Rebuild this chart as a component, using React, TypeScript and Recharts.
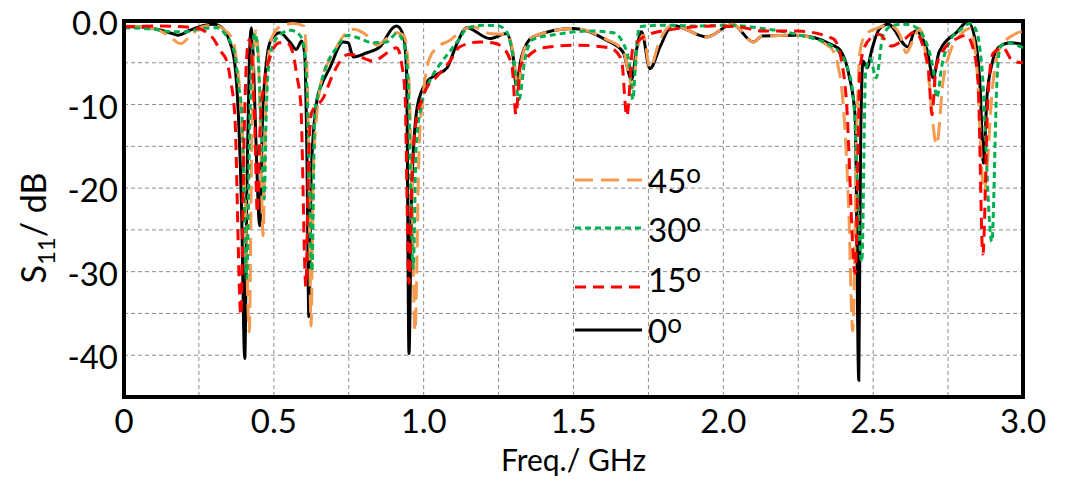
import React from "react";
import { LineChart, Line, XAxis, YAxis, CartesianGrid, ReferenceArea } from "recharts";

// axis ticks (grid every 0.25 GHz / 5 dB, labels every 0.5 GHz / 10 dB)
const freqTicks = [0, 0.25, 0.5, 0.75, 1, 1.25, 1.5, 1.75, 2, 2.25, 2.5, 2.75, 3];
const dbTicks = [-45, -40, -35, -30, -25, -20, -15, -10, -5, 0];

// S11 (dB), [freq GHz, dB]
const s11Deg0: [number, number][] = [
  [0, -0.7], [0.05, -0.7], [0.1, -0.9], [0.16, -1.5], [0.18, -1.7], [0.22, -1.1], [0.27, -0.5],
  [0.3, -0.4], [0.33, -0.9], [0.35, -2.2], [0.37, -5.2], [0.38, -10], [0.392, -22], [0.403, -40.4],
  [0.41, -20], [0.418, -5], [0.425, -0.8], [0.432, -5], [0.44, -14], [0.453, -24.5], [0.462, -12],
  [0.475, -5], [0.49, -2.3], [0.52, -1.4], [0.553, -2.5], [0.575, -3.4], [0.593, -2.4], [0.603, -4],
  [0.61, -15], [0.617, -35.4], [0.625, -18], [0.644, -9.4], [0.66, -7.6], [0.687, -5.6], [0.731, -2.5],
  [0.748, -2.6], [0.765, -4.3], [0.81, -3.8], [0.854, -3.1], [0.898, -0.8], [0.91, -0.6], [0.932, -1.7],
  [0.943, -6], [0.951, -39.8], [0.96, -20], [0.98, -10], [1.01, -7.3], [1.044, -6.4], [1.078, -5.6],
  [1.11, -2.8], [1.144, -0.8], [1.22, -2.1], [1.277, -1.5], [1.3, -4.6], [1.308, -7.6], [1.327, -4.2],
  [1.365, -1.9], [1.5, -0.9], [1.61, -2.3], [1.665, -3.7], [1.694, -7], [1.71, -3.5], [1.727, -1.3],
  [1.755, -5.7], [1.79, -3], [1.83, -0.5], [1.945, -1.9], [2.03, -0.4], [2.1, -2.5], [2.13, -1.8],
  [2.245, -1.7], [2.366, -2.9], [2.39, -3.5], [2.42, -6.6], [2.44, -11.4], [2.452, -43], [2.458, -15],
  [2.466, -4.8], [2.48, -5.6], [2.495, -3.5], [2.52, -1], [2.55, -0.4], [2.616, -3.1], [2.64, -1.2],
  [2.68, -3.5], [2.7, -6.8], [2.72, -3.7], [2.78, -1.3], [2.816, -0.1], [2.845, -3.2], [2.857, -8],
  [2.868, -17], [2.88, -9], [2.896, -5.2], [2.92, -3.1], [2.96, -2.6], [3, -2.8],
];

const s11Deg15: [number, number][] = [
  [0, -0.7], [0.1, -0.6], [0.2, -0.7], [0.25, -0.9], [0.28, -1.5], [0.3, -2.2], [0.32, -3.5],
  [0.343, -4.8], [0.355, -7], [0.37, -11.5], [0.39, -35.2], [0.4, -15], [0.41, -4], [0.418, -2.2],
  [0.428, -5], [0.436, -12], [0.445, -23], [0.455, -12], [0.47, -7], [0.49, -4], [0.5, -3.2],
  [0.52, -2.6], [0.543, -2.6], [0.565, -4], [0.576, -6.4], [0.59, -10], [0.607, -31.8], [0.615, -18],
  [0.626, -11], [0.665, -9.2], [0.697, -6.4], [0.73, -4.4], [0.748, -4], [0.777, -4.1], [0.81, -4.6],
  [0.83, -4.8], [0.887, -3.6], [0.91, -3.2], [0.927, -5.2], [0.938, -9], [0.951, -31.4], [0.962, -18],
  [0.975, -12], [0.993, -9.5], [1.01, -8], [1.04, -6.8], [1.088, -4.8], [1.12, -3.1], [1.188, -2.5],
  [1.23, -2.6], [1.265, -3.2], [1.295, -5.5], [1.308, -11.2], [1.322, -5.5], [1.344, -4.4], [1.4, -3.2],
  [1.51, -2.9], [1.62, -3.2], [1.66, -4.6], [1.678, -11.4], [1.698, -3.3], [1.745, -1.7], [1.83, -1],
  [1.965, -0.6], [2.05, -0.7], [2.13, -1.2], [2.245, -1.2], [2.366, -2.1], [2.39, -4], [2.41, -9.2],
  [2.44, -30.2], [2.456, -6], [2.466, -3.7], [2.49, -2.1], [2.52, -1.6], [2.56, -3], [2.6, -2.3],
  [2.64, -1.3], [2.67, -3.5], [2.685, -6], [2.696, -11.2], [2.71, -5.5], [2.74, -3.2], [2.78, -2.1],
  [2.81, -1.7], [2.833, -3.2], [2.85, -7.3], [2.866, -27.9], [2.883, -9.2], [2.9, -3.9], [2.933, -3.2],
  [2.966, -4.8], [3, -5],
];

const s11Deg30: [number, number][] = [
  [0, -0.8], [0.1, -1], [0.165, -1.3], [0.2, -1.3], [0.26, -0.9], [0.31, -0.8], [0.34, -1.7],
  [0.37, -4], [0.38, -7.2], [0.393, -11], [0.41, -30.8], [0.418, -15], [0.427, -4], [0.437, -1.5],
  [0.447, -4], [0.457, -12], [0.468, -21.3], [0.474, -12], [0.48, -6.4], [0.497, -2.9], [0.52, -1.7],
  [0.554, -1.1], [0.587, -1.7], [0.604, -4], [0.614, -12], [0.627, -29.9], [0.637, -11], [0.654, -8],
  [0.677, -5.2], [0.71, -3.2], [0.748, -1.7], [0.787, -2.1], [0.83, -2.6], [0.877, -2.5], [0.91, -1.5],
  [0.932, -2.5], [0.948, -7.2], [0.965, -29.6], [0.975, -15], [0.993, -10], [1.02, -7.2], [1.054, -5.2],
  [1.088, -3.6], [1.12, -2.1], [1.144, -0.9], [1.2, -0.5], [1.25, -0.6], [1.277, -1.3], [1.3, -4.6],
  [1.318, -9.4], [1.338, -4.6], [1.365, -2.2], [1.444, -1.6], [1.555, -1.2], [1.632, -1.4], [1.665, -2.6],
  [1.688, -5.5], [1.698, -9.4], [1.71, -3.3], [1.72, -0.7], [1.8, -0.5], [1.91, -0.6], [2.02, -0.5],
  [2.13, -0.9], [2.256, -1.7], [2.366, -3.1], [2.41, -5.2], [2.434, -9.2], [2.462, -28.8], [2.475, -6],
  [2.49, -4.5], [2.51, -6.8], [2.533, -1.7], [2.566, -0.5], [2.61, -0.4], [2.645, -0.8], [2.7, -5.6],
  [2.712, -9.2], [2.73, -5.2], [2.756, -2.4], [2.79, -1.1], [2.823, -0.3], [2.845, -1.2], [2.862, -5.2],
  [2.896, -26.4], [2.913, -7.2], [2.923, -3.2], [2.946, -2.6], [2.98, -2.9], [3, -3.2],
];

const s11Deg45: [number, number][] = [
  [0, -0.6], [0.1, -0.9], [0.15, -1.8], [0.19, -2.7], [0.22, -1.8], [0.26, -0.7], [0.3, -0.5],
  [0.34, -1.2], [0.365, -2.5], [0.377, -5.2], [0.39, -10], [0.405, -22], [0.418, -37.2], [0.426, -15],
  [0.433, -4], [0.44, -1.2], [0.448, -4], [0.456, -14], [0.464, -25.7], [0.472, -12], [0.48, -5],
  [0.497, -1.7], [0.53, -0.5], [0.565, -0.3], [0.6, -0.6], [0.61, -5.2], [0.617, -18], [0.624, -36.5],
  [0.632, -18], [0.65, -9], [0.665, -6.4], [0.697, -4], [0.73, -1.9], [0.765, -1], [0.81, -1.7],
  [0.845, -2.9], [0.877, -2.1], [0.91, -1.4], [0.935, -1.8], [0.948, -5.2], [0.96, -18], [0.971, -37.1],
  [0.985, -15], [0.998, -9], [1.02, -4.4], [1.044, -3.2], [1.088, -2.3], [1.13, -1.1], [1.165, -0.7],
  [1.22, -1.5], [1.277, -1.6], [1.3, -4.1], [1.315, -8.2], [1.33, -4.1], [1.365, -1.9], [1.5, -0.9],
  [1.61, -2.2], [1.665, -3.5], [1.698, -8], [1.712, -3.5], [1.733, -1.7], [1.755, -5.6], [1.788, -2.3],
  [1.83, -0.5], [1.945, -1.9], [2.03, -0.4], [2.1, -2.5], [2.13, -1.8], [2.245, -1.7], [2.356, -3.1],
  [2.383, -5.4], [2.4, -10], [2.418, -22], [2.432, -37.1], [2.446, -12], [2.456, -3.7], [2.473, -1.7],
  [2.51, -0.9], [2.556, -0.5], [2.59, -1.7], [2.61, -3.8], [2.633, -2.3], [2.655, -0.9], [2.68, -5.2],
  [2.712, -14.8], [2.733, -7.3], [2.756, -3.8], [2.79, -1.7], [2.823, -0.9], [2.845, -5.2], [2.87, -20.5],
  [2.9, -7.3], [2.923, -3.2], [2.966, -1.7], [3, -1.2],
];

const toRows = (pairs: [number, number][]) => pairs.map(([f, db]) => ({ f, db }));

const FONT = "Lato, 'Open Sans', sans-serif";

const fmtFreq = (v: number) => (v % 0.5 === 0 ? (v === 0 ? "0" : v.toFixed(1)) : "");
const fmtDb = (v: number) => (v === 0 ? "0.0" : v % 10 === 0 ? String(v) : "");

// y tick labels sit a little below their grid line in the original
const DbTick = (props: any) => {
  const { x, y, payload } = props;
  return (
    <text x={x} y={y} dy={14} textAnchor="end" fontSize={33} fontFamily={FONT} fill="#000">
      {fmtDb(payload.value)}
    </text>
  );
};

const XTitle = (props: any) => {
  const vb = props.viewBox || { x: 124, y: 397, width: 899 };
  return (
    <text x={vb.x + vb.width / 2} y={vb.y + 74} textAnchor="middle" fontSize={30} fontFamily={FONT} fill="#000">
      Freq./ GHz
    </text>
  );
};

const YTitle = (props: any) => {
  const vb = props.viewBox || { x: 0, y: 21, width: 124, height: 376 };
  const cx = vb.x + 46;
  const cy = vb.y + vb.height / 2 + 19;
  return (
    <text transform={`translate(${cx}, ${cy}) rotate(-90)`} textAnchor="middle" fontSize={34} fontFamily={FONT} fill="#000">
      S<tspan dy={9} fontSize={24}>11</tspan>
      <tspan dy={-9}>/ dB</tspan>
    </text>
  );
};

const legendItems = [
  { name: "45", color: "#F59A4E", dash: "18 8", lineY: 180, textY: 193 },
  { name: "30", color: "#00B050", dash: "6 4", lineY: 228, textY: 242 },
  { name: "15", color: "#FF0000", dash: "11 7", lineY: 287, textY: 292 },
  { name: "0", color: "#000000", dash: undefined, lineY: 330, textY: 343 },
];

export default function App() {
  return (
    <div style={{ position: "relative", top: -8, left: -8, width: 1067, height: 481 }}>
      <LineChart width={1067} height={481} margin={{ top: 21, right: 44, left: 0, bottom: 0 }}>
        <CartesianGrid stroke="#8c8c8c" strokeDasharray="4 3" strokeWidth={1} />
        <XAxis
          dataKey="f"
          type="number"
          domain={[0, 3]}
          ticks={freqTicks}
          interval={0}
          tickFormatter={fmtFreq}
          tickLine={false}
          tickSize={8}
          tickMargin={5}
          height={84}
          axisLine={{ stroke: "#000", strokeWidth: 4 }}
          tick={{ fill: "#000", fontSize: 33, fontFamily: FONT }}
          label={<XTitle />}
        />
        <YAxis
          type="number"
          domain={[-45, 0]}
          ticks={dbTicks}
          interval={0}
          tickLine={false}
          tickSize={4}
          tickMargin={2}
          width={124}
          axisLine={{ stroke: "#000", strokeWidth: 4 }}
          tick={<DbTick />}
          label={<YTitle />}
        />
        <Line data={toRows(s11Deg0)} dataKey="db" name="0" type="monotone" stroke="#000" strokeWidth={3} dot={false} isAnimationActive={false} />
        <Line data={toRows(s11Deg45)} dataKey="db" name="45" type="monotone" stroke="#F59A4E" strokeWidth={3} strokeDasharray="18 8" dot={false} isAnimationActive={false} />
        <Line data={toRows(s11Deg30)} dataKey="db" name="30" type="monotone" stroke="#00B050" strokeWidth={3} strokeDasharray="6 4" dot={false} isAnimationActive={false} />
        <Line data={toRows(s11Deg15)} dataKey="db" name="15" type="monotone" stroke="#FF0000" strokeWidth={3} strokeDasharray="11 7" dot={false} isAnimationActive={false} />
        <ReferenceArea x1={0} x2={3} y1={-45} y2={0} fill="none" stroke="#000" strokeWidth={4} ifOverflow="visible" />
      </LineChart>
      <svg width={1067} height={481} style={{ position: "absolute", left: 0, top: 0, pointerEvents: "none" }}>
        {legendItems.map((it) => (
          <g key={it.name}>
            <line x1={575} x2={642} y1={it.lineY} y2={it.lineY} stroke={it.color} strokeWidth={3} strokeDasharray={it.dash} />
            <text x={648} y={it.textY} fontSize={33} fontFamily={FONT} fill="#000">
              {it.name}
              <tspan dy={-10} fontSize={26}>o</tspan>
            </text>
          </g>
        ))}
      </svg>
    </div>
  );
}
